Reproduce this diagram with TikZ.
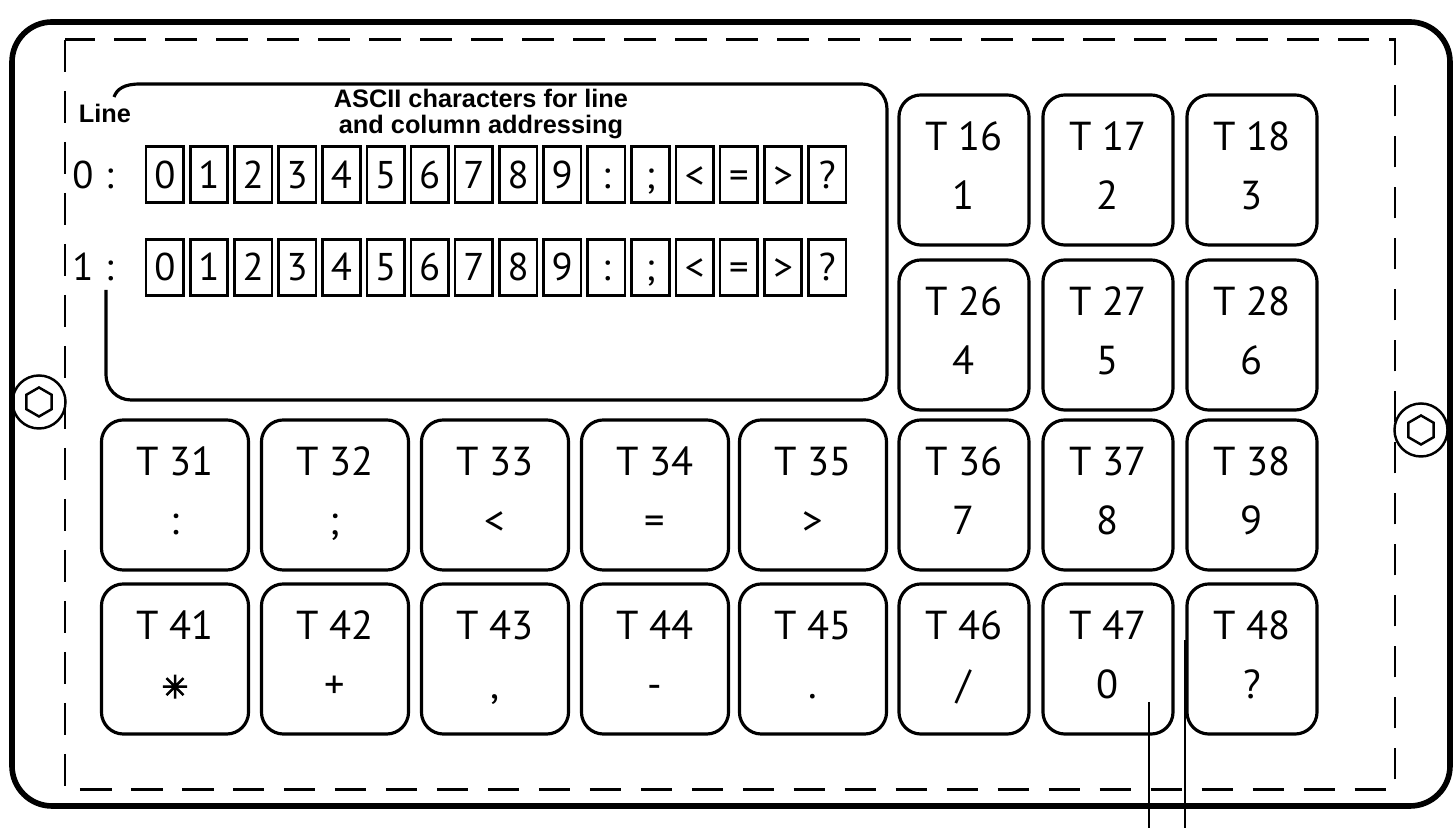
\documentclass[tikz,border=0pt]{standalone}
\usepackage{fontspec}
\setmainfont{PT Sans}
\newfontfamily\headfont{Liberation Sans}
\newfontfamily\starfont[FakeBold=3]{DejaVu Sans}
\usetikzlibrary{positioning,shapes.geometric}
\newcommand{\keytext}[2]{\strut #1\\[3pt]\strut #2}

\begin{document}
\begin{tikzpicture}[x=0.01cm,y=-0.01cm]
    \tikzstyle{key} = [draw, line width=0.9pt, rounded corners=0.22cm, minimum width=1.47cm, minimum height=1.5cm, align=center, font=\fontsize{11.5}{13.8}\selectfont]
    \tikzstyle{rkey} = [key, minimum width=1.3cm]
    \tikzstyle{cbox} = [draw, line width=0.75pt, minimum width=0.375cm, minimum height=0.56cm, inner sep=0pt, outer sep=0pt, text height=7.7pt, text depth=0pt, font=\fontsize{11}{13}\selectfont]
    \tikzstyle{note} = [font=\headfont\bfseries\fontsize{7.2}{7.2}\selectfont, align=center]
    \tikzstyle{screw} = [circle, draw, line width=0.7pt, minimum size=0.53cm, inner sep=0pt]
    \tikzstyle{hex} = [regular polygon, regular polygon sides=6, shape border rotate=30, draw, line width=0.7pt, minimum size=0.29cm, inner sep=0pt]
    \useasboundingbox (0,0) rectangle (1456,828);

    % housing and cut-out
    \draw[line width=1.6pt, rounded corners=0.4cm] (12,22) rectangle (1450,806);
    \draw[line width=0.85pt, dash pattern=on 9pt off 5.5pt] (65,40) rectangle (1395,790);

    % display window
    \draw[line width=0.9pt] (114,97) .. controls (117,89) and (124,84) .. (140,84)
        [rounded corners=0.25cm] -- (887,84) -- (887,400) -- (106,400) -- (106,290);
    \node[note] (line) at (105,113) {Line};
    \node[note] (ascii) at (481,114) {ASCII characters for line\\and column addressing};

    \matrix (chars) at (496,221) [column sep=0.04cm, row sep=0.34cm, nodes={cbox}] {
    \node (a0) {0}; & \node (a1) {1}; & \node (a2) {2}; & \node (a3) {3}; &
    \node (a4) {4}; & \node (a5) {5}; & \node (a6) {6}; & \node (a7) {7}; &
    \node (a8) {8}; & \node (a9) {9}; & \node (a10) {:}; & \node (a11) {;}; &
    \node (a12) {<}; & \node (a13) {=}; & \node (a14) {>}; & \node (a15) {?}; \\
    \node (b0) {0}; & \node (b1) {1}; & \node (b2) {2}; & \node (b3) {3}; &
    \node (b4) {4}; & \node (b5) {5}; & \node (b6) {6}; & \node (b7) {7}; &
    \node (b8) {8}; & \node (b9) {9}; & \node (b10) {:}; & \node (b11) {;}; &
    \node (b12) {<}; & \node (b13) {=}; & \node (b14) {>}; & \node (b15) {?}; \\
    };
    \node[left=0.2cm of a0, font=\fontsize{11}{13}\selectfont] (row0) {0\hspace{0.3em}:};
    \node[left=0.2cm of b0, font=\fontsize{11}{13}\selectfont] (row1) {1\hspace{0.3em}:};

    % keys
    \node[rkey] (t16) at (964,170) {\keytext{T 16}{1}};
    \node[rkey] (t17) at (1108,170) {\keytext{T 17}{2}};
    \node[rkey] (t18) at (1252,170) {\keytext{T 18}{3}};
    \node[rkey] (t26) at (964,335) {\keytext{T 26}{4}};
    \node[rkey] (t27) at (1108,335) {\keytext{T 27}{5}};
    \node[rkey] (t28) at (1252,335) {\keytext{T 28}{6}};

    \node[key] (t31) at (175,495) {\keytext{T 31}{:}};
    \node[key] (t32) at (335,495) {\keytext{T 32}{;}};
    \node[key] (t33) at (495,495) {\keytext{T 33}{<}};
    \node[key] (t34) at (655,495) {\keytext{T 34}{=}};
    \node[key] (t35) at (813,495) {\keytext{T 35}{>}};
    \node[rkey] (t36) at (964,495) {\keytext{T 36}{7}};
    \node[rkey] (t37) at (1108,495) {\keytext{T 37}{8}};
    \node[rkey] (t38) at (1252,495) {\keytext{T 38}{9}};

    \node[key] (t41) at (175,659) {\keytext{T 41}{{\starfont\fontsize{9}{10}\selectfont ✳}}};
    \node[key] (t42) at (335,659) {\keytext{T 42}{+}};
    \node[key] (t43) at (495,659) {\keytext{T 43}{,}};
    \node[key] (t44) at (655,659) {\keytext{T 44}{-}};
    \node[key] (t45) at (813,659) {\keytext{T 45}{.}};
    \node[rkey] (t46) at (964,659) {\keytext{T 46}{/}};
    \node[rkey] (t47) at (1108,659) {\keytext{T 47}{0}};
    \node[rkey] (t48) at (1252,659) {\keytext{T 48}{?}};

    % fixing screws
    \node[screw] (sl) at (39,402) {};
    \node[hex] (hl) at (sl) {};
    \node[screw] (sr) at (1421,430) {};
    \node[hex] (hr) at (sr) {};

    % leads from T 47
    \coordinate (p1) at (1149,702);
    \coordinate (q1) at (1149,828);
    \coordinate (p2) at (1185,640);
    \coordinate (q2) at (1185,828);
    \draw[line width=0.6pt] (p1) -- (q1);
    \draw[line width=0.6pt] (p2) -- (q2);
\end{tikzpicture}
\end{document}
